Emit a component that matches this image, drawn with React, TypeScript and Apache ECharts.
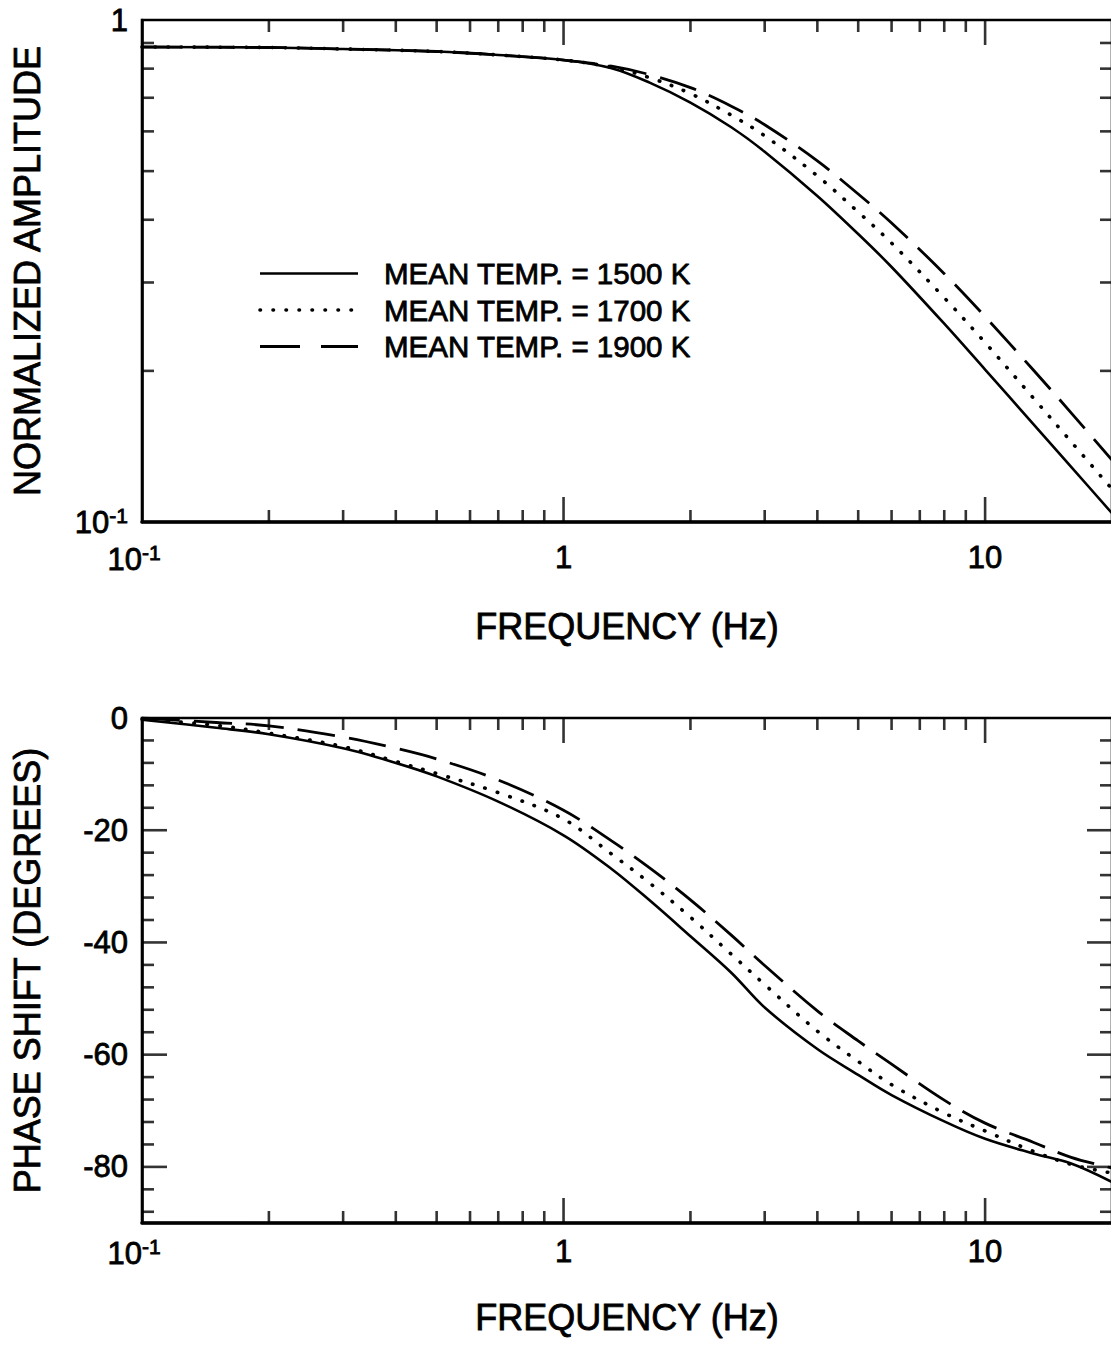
import { useEffect, useRef } from 'react';
import * as echarts from 'echarts';

const FONT = '"Liberation Sans", Arial, Helvetica, sans-serif';

// ---- amplitude panel data ----
const AMP_FREQ = [0.1, 0.2, 0.3, 0.5, 0.7, 1, 1.3, 1.6, 2, 2.5, 3, 4, 5, 6, 8, 10, 13, 16, 20];
const AMP_1500 = [0.8835, 0.8815, 0.8755, 0.8655, 0.8518, 0.8323, 0.8016, 0.7503, 0.6847, 0.6115, 0.5466, 0.4462, 0.3747, 0.3221, 0.2483, 0.2012, 0.1569, 0.1288, 0.1041];
const AMP_1700 = [0.8835, 0.8815, 0.8755, 0.8655, 0.8518, 0.8323, 0.8053, 0.7677, 0.7136, 0.6461, 0.588, 0.4892, 0.4145, 0.3595, 0.2797, 0.2277, 0.1768, 0.1445, 0.1163];
const AMP_1900 = [0.8835, 0.8815, 0.8755, 0.8655, 0.8518, 0.8323, 0.809, 0.7784, 0.7334, 0.6735, 0.6186, 0.524, 0.4501, 0.3941, 0.3124, 0.2565, 0.201, 0.165, 0.1328];

// ---- phase panel data ----
const PHASE_FREQ = [0.1, 0.15, 0.2, 0.3, 0.4, 0.5, 0.7, 1, 1.3, 1.6, 2, 2.5, 3, 4, 5, 6, 8, 10, 13, 16, 20];
const PHASE_1500 = [-0.3, -1.75, -2.9, -5.4, -8.0, -10.4, -14.9, -20.9, -26.9, -32.5, -38.9, -45.4, -51.6, -59.0, -63.6, -67.2, -71.9, -75.0, -77.6, -79.4, -82.7];
const PHASE_1700 = [-0.2, -1.3, -2.7, -5.1, -7.75, -9.9, -13.3, -18.0, -24.25, -29.4, -35.5, -42.1, -47.5, -55.8, -61.2, -65.35, -70.4, -73.6, -77.2, -79.55, -81.1];
const PHASE_1900 = [0, -0.8, -1.4, -3.4, -5.4, -7.3, -11.05, -16.45, -21.9, -26.7, -32.4, -38.7, -44.1, -52.2, -57.55, -61.7, -68.1, -72.2, -75.6, -78.3, -80.2];

const SERIES_NAMES = ['MEAN TEMP. = 1500 K', 'MEAN TEMP. = 1700 K', 'MEAN TEMP. = 1900 K'];

// ---- axis extents & tick positions ----
const X_MIN = 0.1;
const X_MAX = 20;
const AMP_MIN = 0.1;
const AMP_MAX = 1;
const PHASE_MIN = -90;
const PHASE_MAX = 0;
const X_MAJOR_TICKS = [1, 10];
const X_MINOR_TICKS = [0.2, 0.3, 0.4, 0.5, 0.6, 0.7, 0.8, 0.9, 2, 3, 4, 5, 6, 7, 8, 9];
const AMP_MINOR_TICKS = [0.2, 0.3, 0.4, 0.5, 0.6, 0.7, 0.8, 0.9];
const PHASE_MAJOR_TICKS = [-80, -60, -40, -20];
const PHASE_MINOR_TICKS = [-88, -84, -76, -72, -68, -64, -56, -52, -48, -44, -36, -32, -28, -24, -16, -12, -8, -4];

const LINE_STYLES: any[] = [
  { type: 'solid', width: 2.6, cap: 'butt' },
  { type: [0.5, 12.5], width: 3.6, cap: 'round' },
  { type: [38, 14], width: 2.8, cap: 'butt' },
];
const LEGEND_DASH: any[] = [null, [0.5, 12.5], [40, 21]];

const MAJOR = 25;
const MINOR = 12;
const TW = 2.6;
const INK = { textBorderColor: '#000', textBorderWidth: 0.8 };

function tickSeries(idx: number, data: number[][], size: number[], offset: number[]) {
  return {
    type: 'scatter',
    xAxisIndex: idx,
    yAxisIndex: idx,
    data,
    symbol: 'rect',
    symbolSize: size,
    symbolOffset: offset,
    itemStyle: { color: '#000' },
    silent: true,
    clip: false,
    z: 5,
    emphasis: { disabled: true },
  };
}

function panelTicks(idx: number, yMin: number, yMax: number, yMajor: number[], yMinor: number[]) {
  return [
    tickSeries(idx, X_MINOR_TICKS.map((x) => [x, yMin]), [TW, MINOR], [0, -MINOR / 2]),
    tickSeries(idx, X_MAJOR_TICKS.map((x) => [x, yMin]), [TW, MAJOR], [0, -MAJOR / 2]),
    tickSeries(idx, X_MINOR_TICKS.map((x) => [x, yMax]), [TW, MINOR], [0, MINOR / 2]),
    tickSeries(idx, X_MAJOR_TICKS.map((x) => [x, yMax]), [TW, MAJOR], [0, MAJOR / 2]),
    tickSeries(idx, yMinor.map((y) => [X_MIN, y]), [MINOR, TW], [MINOR / 2, 0]),
    tickSeries(idx, yMinor.map((y) => [X_MAX, y]), [MINOR, TW], [-MINOR / 2, 0]),
    tickSeries(idx, yMajor.map((y) => [X_MIN, y]), [MAJOR, TW], [MAJOR / 2, 0]),
    tickSeries(idx, yMajor.map((y) => [X_MAX, y]), [MAJOR, TW], [-MAJOR / 2, 0]),
  ];
}

const logLabel = (v: number) => {
  const e = Math.log10(v);
  const r = Math.round(e);
  if (Math.abs(e - r) > 1e-6) return '';
  if (r === 0) return '1';
  if (r === 1) return '10';
  return `{b|10}{s|${r}}`;
};

const richFor = (supPadRight: number) => ({
  b: { fontSize: 31, fontFamily: FONT, color: '#000', lineHeight: 34, ...INK },
  s: {
    fontSize: 21, fontFamily: FONT, color: '#000', verticalAlign: 'top', lineHeight: 22,
    padding: [0, supPadRight, 0, 0], ...INK,
  },
});

const labelStyle = (margin: number, formatter: any, supPadRight = 0) => ({
  show: true,
  margin,
  fontSize: 31,
  fontFamily: FONT,
  color: '#000',
  ...INK,
  formatter,
  rich: richFor(supPadRight),
});

const nameStyle = { fontSize: 36, fontFamily: FONT, color: '#000', ...INK };

function lineSeries(idx: number, freq: number[], vals: number[], i: number) {
  return {
    type: 'line',
    name: SERIES_NAMES[i],
    xAxisIndex: idx,
    yAxisIndex: idx,
    data: freq.map((f, k) => [f, vals[k]]),
    symbol: 'none',
    showSymbol: false,
    smooth: 0.35,
    lineStyle: { color: '#000', ...LINE_STYLES[i] },
    silent: true,
    z: 3,
  };
}

const LEGEND_X1 = 260;
const LEGEND_X2 = 358;
const LEGEND_TEXT_X = 384;
const LEGEND_ROWS = [273.5, 310, 346.5];

export default function App() {
  const ref = useRef<HTMLDivElement>(null);
  useEffect(() => {
    const chart = echarts.init(ref.current!, undefined, { renderer: 'svg' });
    const gridCommon = {
      show: true,
      borderColor: '#000',
      borderWidth: 2.6,
      backgroundColor: 'transparent',
      containLabel: false,
      outerBoundsMode: 'none',
    };
    const option: any = {
      animation: false,
      backgroundColor: '#fff',
      grid: [
        { ...gridCommon, left: 142, top: 20, width: 970, height: 502 },
        { ...gridCommon, left: 142, top: 718, width: 970, height: 505 },
      ],
      xAxis: [
        {
          type: 'log', logBase: 10, gridIndex: 0, min: X_MIN, max: X_MAX,
          axisLine: { show: true, onZero: false, lineStyle: { color: '#000', width: 3.5 } },
          axisTick: { show: false }, splitLine: { show: false },
          axisLabel: labelStyle(20, logLabel, 16),
          name: 'FREQUENCY (Hz)', nameLocation: 'middle', nameGap: 86, nameTextStyle: nameStyle,
        },
        {
          type: 'log', logBase: 10, gridIndex: 1, min: X_MIN, max: X_MAX,
          axisLine: { show: true, onZero: false, lineStyle: { color: '#000', width: 3.5 } },
          axisTick: { show: false }, splitLine: { show: false },
          axisLabel: labelStyle(13, logLabel, 16),
          name: 'FREQUENCY (Hz)', nameLocation: 'middle', nameGap: 76, nameTextStyle: nameStyle,
        },
      ],
      yAxis: [
        {
          type: 'log', logBase: 10, gridIndex: 0, min: AMP_MIN, max: AMP_MAX,
          axisLine: { show: true, onZero: false, lineStyle: { color: '#000', width: 2.6 } },
          axisTick: { show: false }, splitLine: { show: false },
          axisLabel: labelStyle(14, logLabel),
          name: 'NORMALIZED AMPLITUDE', nameLocation: 'middle', nameGap: 97, nameTextStyle: nameStyle,
        },
        {
          type: 'value', gridIndex: 1, min: PHASE_MIN, max: PHASE_MAX, interval: 10,
          axisLine: { show: true, onZero: false, lineStyle: { color: '#000', width: 2.6 } },
          axisTick: { show: false }, splitLine: { show: false },
          axisLabel: labelStyle(14, (v: number) => (Math.round(v) % 20 === 0 ? String(Math.round(v)) : '')),
          name: 'PHASE SHIFT (DEGREES)', nameLocation: 'middle', nameGap: 97, nameTextStyle: nameStyle,
        },
      ],
      series: [
        lineSeries(0, AMP_FREQ, AMP_1500, 0),
        lineSeries(0, AMP_FREQ, AMP_1700, 1),
        lineSeries(0, AMP_FREQ, AMP_1900, 2),
        lineSeries(1, PHASE_FREQ, PHASE_1500, 0),
        lineSeries(1, PHASE_FREQ, PHASE_1700, 1),
        lineSeries(1, PHASE_FREQ, PHASE_1900, 2),
        ...panelTicks(0, AMP_MIN, AMP_MAX, [], AMP_MINOR_TICKS),
        ...panelTicks(1, PHASE_MIN, PHASE_MAX, PHASE_MAJOR_TICKS, PHASE_MINOR_TICKS),
      ],
      graphic: SERIES_NAMES.flatMap((name, i) => [
        {
          type: 'line',
          silent: true,
          shape: { x1: LEGEND_X1, y1: LEGEND_ROWS[i], x2: LEGEND_X2, y2: LEGEND_ROWS[i] },
          style: {
            stroke: '#000',
            lineWidth: LINE_STYLES[i].width,
            lineDash: LEGEND_DASH[i],
            lineCap: LINE_STYLES[i].cap,
          },
        },
        {
          type: 'text',
          silent: true,
          x: LEGEND_TEXT_X,
          y: LEGEND_ROWS[i],
          style: {
            text: name,
            fontSize: 29.5,
            fontFamily: FONT,
            fill: '#000',
            stroke: '#000',
            lineWidth: 0.8,
            verticalAlign: 'middle',
            align: 'left',
          },
        },
      ]),
    };
    chart.setOption(option);
    return () => chart.dispose();
  }, []);
  return (
    <div
      ref={ref}
      style={{ position: 'absolute', left: 0, top: 0, width: 1111, height: 1346, background: '#fff' }}
    />
  );
}
